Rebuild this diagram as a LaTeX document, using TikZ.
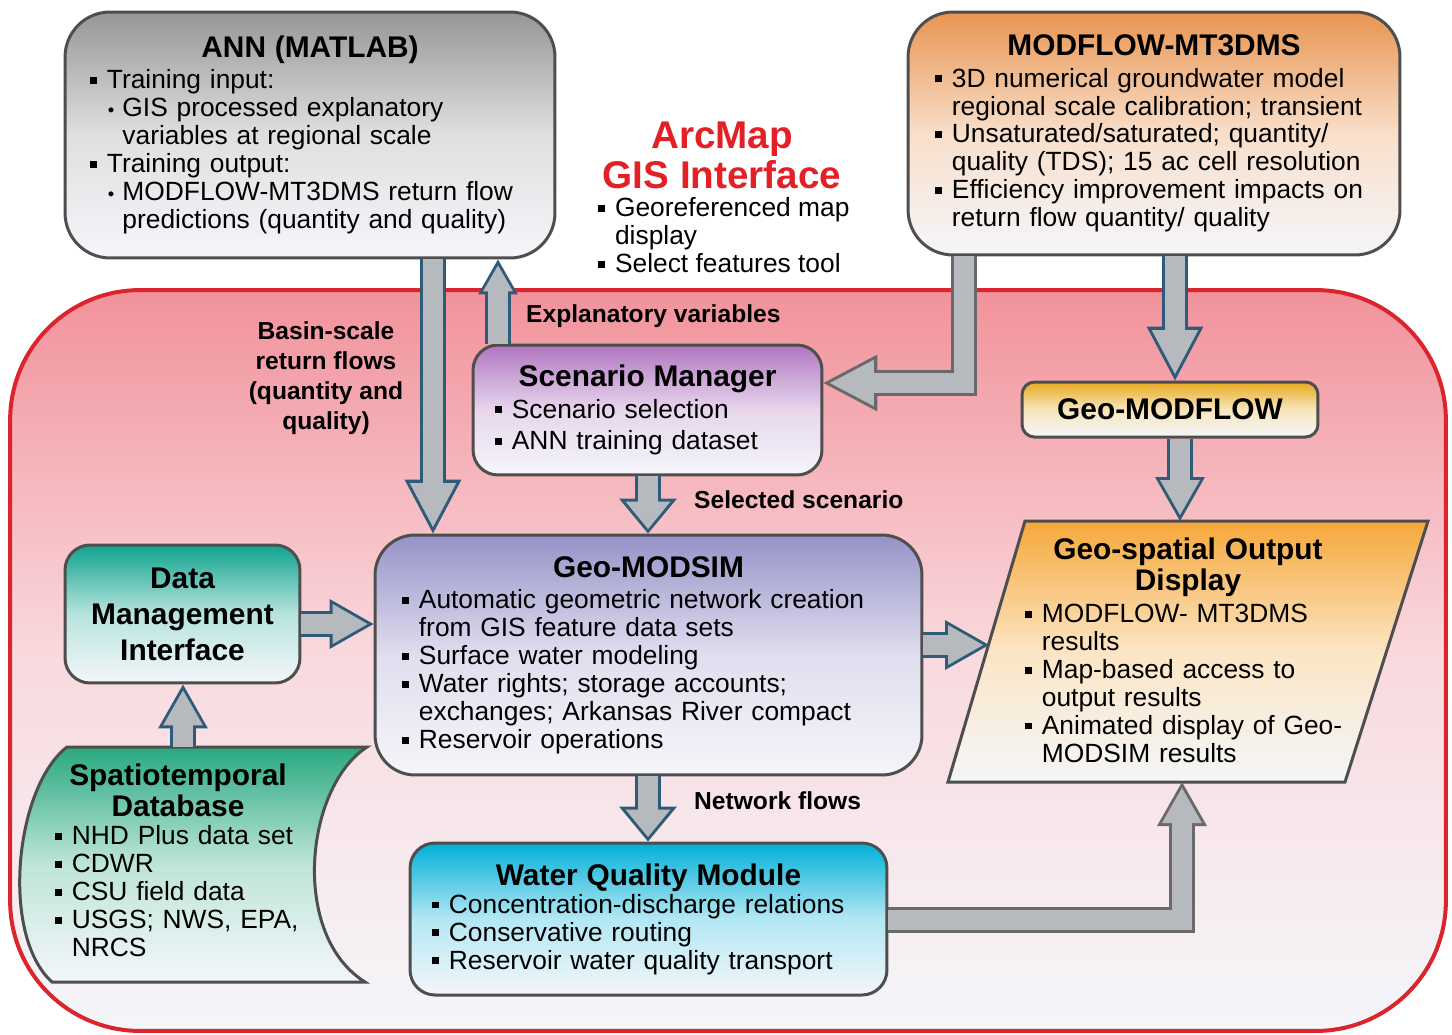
\documentclass[tikz,border=0pt]{standalone}
\usepackage{fontspec}
\setmainfont{Liberation Sans}
\usetikzlibrary{arrows.meta}

\definecolor{edgegray}{RGB}{78,78,78}
\definecolor{boxbot}{RGB}{244,246,250}
\definecolor{anngray}{RGB}{150,150,150}
\definecolor{mforange}{RGB}{232,148,80}
\definecolor{scenpurple}{RGB}{176,118,192}
\definecolor{gmfgold}{RGB}{230,170,30}
\definecolor{msimblue}{RGB}{150,146,200}
\definecolor{dmiteal}{RGB}{16,163,143}
\definecolor{dbteal}{RGB}{40,168,128}
\definecolor{gsdorange}{RGB}{245,168,58}
\definecolor{wqcyan}{RGB}{0,176,216}
\definecolor{coretop}{RGB}{242,146,155}
\definecolor{coremid}{RGB}{249,218,222}
\definecolor{corered}{RGB}{220,36,44}
\definecolor{arcred}{RGB}{226,32,38}
\definecolor{arrfill}{RGB}{182,186,190}
\definecolor{arredge}{RGB}{46,92,120}
\definecolor{arrgray}{RGB}{105,105,105}

\newcommand{\boxtitle}{\fontsize{17}{18}\selectfont\bfseries}
\newcommand{\boxtext}{\fontsize{15}{15.9}\selectfont}
\newcommand{\flowlabel}{\fontsize{14}{17}\selectfont\bfseries}
\newcommand{\bsq}{\makebox[0.64em][l]{\rule[0.18em]{0.26em}{0.26em}}}
\newcommand{\bind}{\hspace*{0.64em}}
\newcommand{\bsub}{\hspace*{0.68em}\makebox[0.55em][l]{\scalebox{0.7}{\textbullet}}}
\newcommand{\bsubi}{\hspace*{1.23em}}

\tikzset{
  box/.style={draw=edgegray, line width=0.06cm, rounded corners=0.5cm,
              inner sep=0pt, font=\boxtext, align=left},
  tint/.style={top color=#1, bottom color=boxbot, middle color=#1!30!white},
  core/.style={draw=corered, line width=0.08cm, rounded corners=2.6cm,
               top color=coretop, bottom color=boxbot, middle color=coremid,
               minimum width=28.72cm, minimum height=14.82cm},
  flow/.style n args={6}{draw=arrfill, line width=0.40cm,
      -{Triangle[width=#4, length=#5, line width=0pt]}, shorten >=#6,
      preaction={draw=#1, line width=0.52cm,
        -{Triangle[width=#2, length=#3, line width=0pt]}, shorten >=0pt}},
  bigflow/.style={flow={#1}{1.14cm}{1.08cm}{0.93cm}{0.88cm}{0.13cm}},
  bigflow/.default=arredge,
  midflow/.style={flow={#1}{1.0cm}{0.88cm}{0.80cm}{0.70cm}{0.12cm}},
  midflow/.default=arredge,
  shortflow/.style={flow={arredge}{1.16cm}{0.70cm}{0.90cm}{0.55cm}{0.09cm}},
  upflow/.style={flow={arredge}{0.80cm}{0.70cm}{0.60cm}{0.52cm}{0.12cm}}
}

\begin{document}
\begin{tikzpicture}[x=0.02cm, y=-0.02cm]
\useasboundingbox (0,0) rectangle (1452,1034);

% pink work area
\node[core] (core) at (728,660.5) {};

% models outside the GIS
\node[box, tint=anngray, rounded corners=0.9cm, minimum width=9.8cm,
      minimum height=4.92cm, text width=8.8cm] (ann) at (310,135)
  {{\centering\boxtitle ANN (MATLAB)\par}\vspace{2pt}
   \bsq Training input:\\
   \bsub GIS processed explanatory\\
   \bsubi variables at regional scale\\
   \bsq Training output:\\
   \bsub MODFLOW-MT3DMS return flow\\
   \bsubi predictions (quantity and quality)};
\node[box, tint=mforange, rounded corners=0.9cm, minimum width=9.84cm,
      minimum height=4.86cm, text width=8.76cm] (mf) at (1154,133.5)
  {{\centering\boxtitle MODFLOW-MT3DMS\par}\vspace{2pt}
   \bsq 3D numerical groundwater model\\
   \bind regional scale calibration; transient\\
   \bsq Unsaturated/saturated; quantity/\\
   \bind quality (TDS); 15 ac cell resolution\\
   \bsq Efficiency improvement impacts on\\
   \bind return flow quantity/ quality};

\node[font=\fontsize{22}{22.7}\selectfont\bfseries, text=arcred, align=center]
  (arcmap) at (722,155) {ArcMap\\GIS Interface};
\node[font=\boxtext, align=left, anchor=west] (arcitems) at (592,235)
  {\bsq Georeferenced map\\\bind display\\\bsq Select features tool};

% GIS modules
\node[box, tint=scenpurple, minimum width=6.98cm, minimum height=2.6cm,
      text width=6.1cm, font=\fontsize{15}{18}\selectfont] (scen) at (647.5,410)
  {{\centering\boxtitle Scenario Manager\par}
   \bsq Scenario selection\\
   \bsq ANN training dataset};
\node[box, tint=gmfgold, rounded corners=0.25cm, minimum width=5.92cm,
      minimum height=1.1cm, font=\boxtitle, align=center] (gmf) at (1170,409.5)
  {Geo-MODFLOW};
\node[box, tint=msimblue, rounded corners=0.8cm, minimum width=10.94cm,
      minimum height=4.8cm, text width=9.86cm] (msim) at (648.5,655)
  {{\centering\boxtitle Geo-MODSIM\par}\vspace{2pt}
   \bsq Automatic geometric network creation\\
   \bind from GIS feature data sets\\
   \bsq Surface water modeling\\
   \bsq Water rights; storage accounts;\\
   \bind exchanges; Arkansas River compact\\
   \bsq Reservoir operations};
\node[box, tint=dmiteal, minimum width=4.7cm, minimum height=2.76cm,
      font=\fontsize{17}{20.5}\selectfont\bfseries, align=center] (dmi) at (182.5,614)
  {Data\\Management\\Interface};
\node[box, tint=wqcyan, minimum width=9.54cm, minimum height=3.04cm,
      text width=8.66cm] (wq) at (648.5,919)
  {{\centering\boxtitle Water Quality Module\par}
   \bsq Concentration-discharge relations\\
   \bsq Conservative routing\\
   \bsq Reservoir water quality transport};

% stored data and output display
\path[draw=edgegray, line width=0.06cm, tint=dbteal]
  (67,747) -- (367,747) .. controls (305,787) and (290,935) .. (365,982)
  -- (52,982) .. controls (0,935) and (15,787) .. (67,747) -- cycle;
\node[font=\boxtext, align=left, text width=4.92cm] (stdb) at (178,860)
  {{\centering\boxtitle Spatiotemporal\\Database\par}
   \bsq NHD Plus data set\\
   \bsq CDWR\\
   \bsq CSU field data\\
   \bsq USGS; NWS, EPA,\\
   \bind NRCS};
\path[draw=edgegray, line width=0.06cm, tint=gsdorange]
  (1025,521) -- (1428,521) -- (1345,782) -- (948,782) -- cycle;
\node[font=\boxtext, align=left, text width=6.52cm] (gsd) at (1188,650)
  {{\centering\boxtitle Geo-spatial Output\\Display\par}\vspace{2pt}
   \bsq MODFLOW- MT3DMS\\
   \bind results\\
   \bsq Map-based access to\\
   \bind output results\\
   \bsq Animated display of Geo-\\
   \bind MODSIM results};

% arrow labels
\node[font=\flowlabel, align=center] (basinlbl) at (326,378)
  {Basin-scale\\return flows\\(quantity and\\quality)};
\node[font=\flowlabel, anchor=west] (explbl) at (520,316) {Explanatory variables};
\node[font=\flowlabel, anchor=west] (sellbl) at (688,500) {Selected scenario};
\node[font=\flowlabel, anchor=west] (netlbl) at (688,801) {Network flows};

% arrows
\coordinate (xa) at (433,0);
\coordinate (xb) at (498,0);
\coordinate (xc) at (1175,0);
\coordinate (xd) at (648,0);
\coordinate (ya) at (0,624);
\coordinate (bendA) at (964,383);
\coordinate (bendB) at (1182,920);
\coordinate (dbtop) at (183,747);
\coordinate (gsdtop) at (1180,521);
\coordinate (gsdleft) at (989,645);
\coordinate (gsdbot) at (1182,782);

\draw[bigflow] (ann.south -| xa) -- (msim.north -| xa);
\draw[upflow] (scen.north -| xb) -- (ann.south -| xb);
\draw[bigflow=arrgray] (mf.south -| bendA) |- (scen.east |- bendA);
\draw[bigflow] (mf.south -| xc) -- (gmf.north -| xc);
\draw[midflow] (gmf.south -| gsdtop) -- (gsdtop);
\draw[shortflow] (scen.south -| xd) -- (msim.north -| xd);
\draw[midflow] (dmi.east |- ya) -- (msim.west |- ya);
\draw[midflow] (dbtop) -- (dmi.south -| dbtop);
\draw[midflow] (msim.east |- gsdleft) -- (gsdleft);
\draw[shortflow] (msim.south -| xd) -- (wq.north -| xd);
\draw[midflow=arrgray] (wq.east |- bendB) -| (gsdbot);
\end{tikzpicture}
\end{document}
